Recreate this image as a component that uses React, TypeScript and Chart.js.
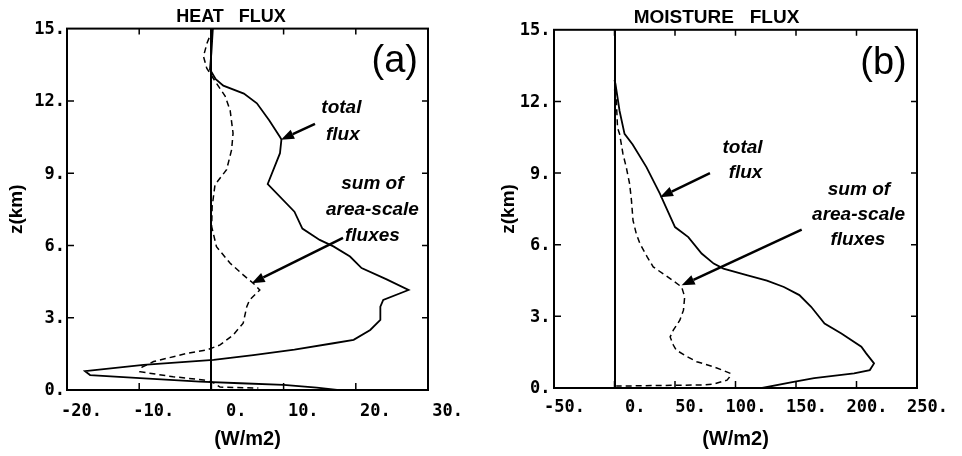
import React, { useEffect, useRef } from 'react';
import { Chart, registerables } from 'chart.js';
Chart.register(...registerables);

// ---------- Panel (a): HEAT FLUX ----------
const heatTotalZ = [15, 14.0, 13.3, 12.9, 12.63, 12.3, 11.9, 11.2, 10.5, 10.4, 9.83, 8.55, 7.4, 6.7, 6.23, 5.96, 5.54, 5.06, 4.6, 4.15, 3.74, 3.46, 2.91, 2.49, 2.08, 1.94, 1.68, 1.45, 1.25, 1.04, 0.78, 0.62, 0.49, 0.35, 0.28, 0.21, 0.1, 0.0];
const heatTotal = [0.2, 0.0, -0.2, 0.6, 1.65, 4.5, 6.3, 8.0, 9.5, 9.7, 9.5, 7.8, 11.5, 12.6, 15.0, 16.9, 19.2, 20.8, 24.2, 27.3, 23.8, 23.4, 23.4, 22.0, 19.7, 16.9, 11.5, 5.8, 0.3, -9.4, -17.5, -16.8, -9.9, -1.6, 4.0, 10.0, 14.6, 17.4];
const heatAreaZ = [15, 14.4, 13.85, 13.36, 12.73, 12.2, 11.6, 10.66, 9.97, 9.14, 8.52, 7.6, 6.78, 5.95, 5.26, 4.78, 4.43, 4.15, 3.74, 3.46, 2.77, 2.28, 1.87, 1.66, 1.52, 1.18, 0.95, 0.76, 0.55, 0.42, 0.3, 0.12, 0.08];
const heatArea = [0.2, -0.6, -1.1, -0.65, 0.7, 1.9, 2.6, 3.0, 2.8, 2.1, 0.5, 0.1, 0.04, 0.7, 2.6, 4.4, 5.8, 6.7, 5.3, 4.9, 4.4, 3.0, 1.2, -0.65, -3.4, -8.0, -9.6, -9.9, -5.3, -1.1, 0.3, 1.2, 6.5];
const heatXTicks = [-20, -10, 0, 10, 20, 30];

// ---------- Panel (b): MOISTURE FLUX ----------
const moistTotalZ = [12.9, 12.73, 11.6, 10.64, 10.2, 9.25, 8.14, 7.86, 6.74, 6.32, 5.63, 5.21, 5.0, 4.72, 4.5, 4.23, 3.89, 3.4, 2.7, 2.28, 1.73, 1.45, 1.03, 0.75, 0.61, 0.41, 0.26, 0.0];
const moistTotal = [0, 0.8, 4.2, 8.3, 15, 26.4, 37.5, 40, 50, 61, 72, 82, 90, 110, 126, 140, 152.8, 162.5, 173.6, 187.5, 204, 208, 214.5, 211, 198, 165, 148, 122];
const moistAreaZ = [12.5, 12.17, 10.9, 10.64, 9.8, 9.25, 8.55, 7.86, 7.02, 6.46, 6.05, 5.49, 5.07, 4.79, 4.58, 4.23, 3.82, 3.26, 2.84, 2.42, 2.14, 1.8, 1.59, 1.31, 1.1, 0.89, 0.61, 0.45, 0.33, 0.17, 0.13, 0.08];
const moistArea = [0, 1.4, 2.5, 4.2, 7, 9.7, 12.5, 14, 15.3, 18, 21, 27, 32, 40, 46, 55.5, 58, 57, 54, 48.6, 46, 48.6, 51, 60, 68, 82, 96, 95, 93, 82, 75, 1.4];
const moistXTicks = [-50, 0, 50, 100, 150, 200, 250];

const zTicks = [0, 3, 6, 9, 12, 15];

// ---------- Annotations (data coordinates) ----------
const heatPanelLabel = { text: '(a)', x: 25.4, z: 13.63 };
const heatNotes = [
  { text: 'total', x: 18.0, z: 11.72 },
  { text: 'flux', x: 18.2, z: 10.59 },
  { text: 'sum of', x: 22.3, z: 8.56 },
  { text: 'area-scale', x: 22.3, z: 7.48 },
  { text: 'fluxes', x: 22.3, z: 6.4 },
];
const heatArrows = [
  { x1: 14.35, z1: 11.05, x2: 9.64, z2: 10.39 },
  { x1: 18.23, z1: 6.31, x2: 5.58, z2: 4.43 },
];
const moistPanelLabel = { text: '(b)', x: 222.3, z: 13.58 };
const moistNotes = [
  { text: 'total', x: 105.8, z: 10.07 },
  { text: 'flux', x: 108.3, z: 9.03 },
  { text: 'sum of', x: 202, z: 8.32 },
  { text: 'area-scale', x: 201.7, z: 7.27 },
  { text: 'fluxes', x: 201.2, z: 6.21 },
];
const moistArrows = [
  { x1: 78.9, z1: 9.0, x2: 37.6, z2: 7.99 },
  { x1: 154.7, z1: 6.63, x2: 55.5, z2: 4.3 },
];

const SANS = '"Liberation Sans", Arial, Helvetica, sans-serif';
const MONO = '"DejaVu Sans Mono", monospace';

const pts = (xs: number[], zs: number[]) => xs.map((v, i) => ({ x: v, y: zs[i] }));

function makeOverlay(panelLabel: any, notes: any[], arrows: any[]) {
  return {
    id: 'overlay',
    afterDraw(chart: any) {
      const { ctx, chartArea } = chart;
      const sx = chart.scales.x;
      const sy = chart.scales.y;
      const { left, right, top, bottom } = chartArea;
      ctx.save();
      ctx.strokeStyle = '#000';
      ctx.fillStyle = '#000';
      // frame
      ctx.lineWidth = 2;
      ctx.strokeRect(left, top, right - left, bottom - top);
      // inward ticks
      ctx.lineWidth = 1.5;
      ctx.beginPath();
      sx.ticks.forEach((t: any, i: number) => {
        if (i === 0 || i === sx.ticks.length - 1) return;
        const px = sx.getPixelForValue(t.value);
        ctx.moveTo(px, bottom); ctx.lineTo(px, bottom - 7);
        ctx.moveTo(px, top); ctx.lineTo(px, top + 6);
      });
      sy.ticks.forEach((t: any, i: number) => {
        if (i === 0 || i === sy.ticks.length - 1) return;
        const py = sy.getPixelForValue(t.value);
        ctx.moveTo(left, py); ctx.lineTo(left + 7, py);
        ctx.moveTo(right, py); ctx.lineTo(right - 6, py);
      });
      ctx.stroke();
      // panel label
      ctx.textAlign = 'center';
      ctx.textBaseline = 'middle';
      ctx.font = `38px ${SANS}`;
      ctx.fillText(panelLabel.text, sx.getPixelForValue(panelLabel.x), sy.getPixelForValue(panelLabel.z));
      // notes
      ctx.font = `italic bold 19px ${SANS}`;
      notes.forEach((n) => {
        ctx.fillText(n.text, sx.getPixelForValue(n.x), sy.getPixelForValue(n.z));
      });
      // arrows
      arrows.forEach((a) => {
        const x1 = sx.getPixelForValue(a.x1), y1 = sy.getPixelForValue(a.z1);
        const x2 = sx.getPixelForValue(a.x2), y2 = sy.getPixelForValue(a.z2);
        const ang = Math.atan2(y2 - y1, x2 - x1);
        const hl = 13, hw = 5;
        const bx = x2 - hl * Math.cos(ang), by = y2 - hl * Math.sin(ang);
        ctx.lineWidth = 2.5;
        ctx.beginPath();
        ctx.moveTo(x1, y1); ctx.lineTo(bx, by);
        ctx.stroke();
        ctx.beginPath();
        ctx.moveTo(x2, y2);
        ctx.lineTo(bx + hw * Math.sin(ang), by - hw * Math.cos(ang));
        ctx.lineTo(bx - hw * Math.sin(ang), by + hw * Math.cos(ang));
        ctx.closePath();
        ctx.fill();
      });
      ctx.restore();
    },
  };
}

interface PanelSpec {
  title: string; titleSize: number;
  total: number[]; totalZ: number[];
  area: number[]; areaZ: number[];
  xTicks: number[];
  padRight: number; y2Width: number; yAxisWidth: number; xAxisHeight: number;
  xLabelOffset: number; xLabelPad: number; yLabelPad: number; yTitlePad: number;
  panelLabel: any; notes: any[]; arrows: any[];
}

function makeConfig(p: PanelSpec): any {
  const xMin = p.xTicks[0], xMax = p.xTicks[p.xTicks.length - 1];
  return {
    type: 'scatter',
    data: {
      datasets: [
        { data: pts(p.total, p.totalZ), showLine: true, borderColor: '#000', borderWidth: 1.8, pointRadius: 0, tension: 0, fill: false },
        { data: pts(p.area, p.areaZ), showLine: true, borderColor: '#000', borderWidth: 1.5, borderDash: [6, 4], pointRadius: 0, tension: 0, fill: false },
      ],
    },
    options: {
      animation: false,
      responsive: false,
      events: [],
      layout: { padding: { left: 0, right: p.padRight, top: 0, bottom: 0 } },
      plugins: {
        legend: { display: false },
        tooltip: { enabled: false },
        title: {
          display: true, text: p.title, color: '#000',
          font: { family: SANS, size: p.titleSize, weight: 'bold' },
          padding: { top: 6, bottom: 1 },
        },
      },
      scales: {
        x: {
          type: 'linear', position: 'bottom', min: xMin, max: xMax,
          afterBuildTicks: (s: any) => { s.ticks = p.xTicks.map((v) => ({ value: v })); },
          grid: {
            drawTicks: false, lineWidth: 2,
            color: (c: any) => (c.tick && c.tick.value === 0 ? '#000' : 'rgba(0,0,0,0)'),
          },
          border: { display: false },
          ticks: {
            align: 'end', labelOffset: p.xLabelOffset, padding: p.xLabelPad, color: '#000',
            autoSkip: false, maxRotation: 0,
            font: { family: MONO, size: 17, weight: 'bold' },
            callback: (v: any) => `${v}.`,
          },
          title: {
            display: true, text: '(W/m2)', color: '#000',
            font: { family: SANS, size: 20, weight: 'bold' },
            padding: { top: 0, bottom: 5 },
          },
          afterFit: (s: any) => { s.height = p.xAxisHeight; },
        },
        y: {
          type: 'linear', position: 'left', min: 0, max: 15,
          afterBuildTicks: (s: any) => { s.ticks = zTicks.map((v) => ({ value: v })); },
          grid: { display: false, drawTicks: false },
          border: { display: false },
          ticks: {
            padding: p.yLabelPad, labelOffset: 1, color: '#000', autoSkip: false,
            font: { family: MONO, size: 17, weight: 'bold' },
            callback: (v: any) => `${v}.`,
          },
          title: {
            display: true, text: 'z(km)', color: '#000',
            font: { family: SANS, size: 19, weight: 'bold' },
            padding: { top: p.yTitlePad, bottom: 0 },
          },
          afterFit: (s: any) => { s.width = p.yAxisWidth; },
        },
        y2: {
          type: 'linear', position: 'right', min: 0, max: 15,
          grid: { display: false, drawTicks: false },
          border: { display: false },
          ticks: { display: false },
          afterFit: (s: any) => { s.width = p.y2Width; },
        },
      },
    },
    plugins: [makeOverlay(p.panelLabel, p.notes, p.arrows)],
  };
}

const heatSpec: PanelSpec = {
  title: 'HEAT   FLUX', titleSize: 18,
  total: heatTotal, totalZ: heatTotalZ, area: heatArea, areaZ: heatAreaZ,
  xTicks: heatXTicks,
  padRight: 19, y2Width: 34, yAxisWidth: 67, xAxisHeight: 66,
  xLabelOffset: 35, xLabelPad: 11, yLabelPad: 2, yTitlePad: 5,
  panelLabel: heatPanelLabel, notes: heatNotes, arrows: heatArrows,
};

const moistSpec: PanelSpec = {
  title: 'MOISTURE   FLUX', titleSize: 19,
  total: moistTotal, totalZ: moistTotalZ, area: moistArea, areaZ: moistAreaZ,
  xTicks: moistXTicks,
  padRight: 10, y2Width: 35, yAxisWidth: 73, xAxisHeight: 68,
  xLabelOffset: 31, xLabelPad: 9, yLabelPad: 3.5, yTitlePad: 16,
  panelLabel: moistPanelLabel, notes: moistNotes, arrows: moistArrows,
};

export default function App() {
  const refA = useRef<HTMLCanvasElement | null>(null);
  const refB = useRef<HTMLCanvasElement | null>(null);
  useEffect(() => {
    const a = new Chart(refA.current as HTMLCanvasElement, makeConfig(heatSpec));
    const b = new Chart(refB.current as HTMLCanvasElement, makeConfig(moistSpec));
    return () => { a.destroy(); b.destroy(); };
  }, []);
  return (
    <div style={{ position: 'absolute', left: 0, top: 0, width: 962, height: 456, background: '#fff', overflow: 'hidden' }}>
      <canvas ref={refA} width={481} height={456} style={{ position: 'absolute', left: 0, top: 0 }} />
      <canvas ref={refB} width={481} height={456} style={{ position: 'absolute', left: 481, top: 0 }} />
    </div>
  );
}
